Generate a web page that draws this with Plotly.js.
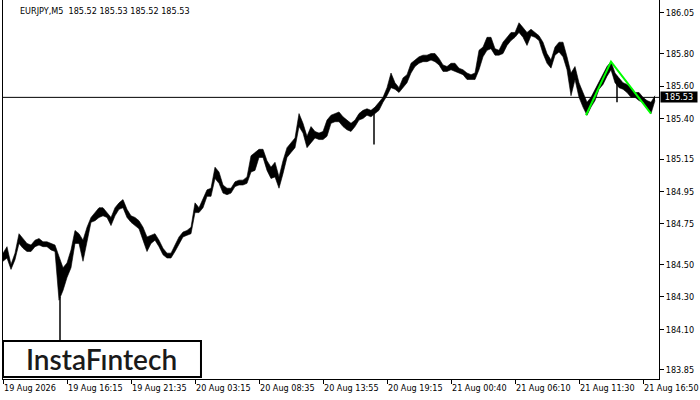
<!DOCTYPE html>
<html>
<head>
<meta charset="utf-8">
<script src="https://cdn.plot.ly/plotly-3.0.1.min.js"></script>
<style>html,body{margin:0;padding:0;background:#fff;}#chart{width:700px;height:400px;}</style>
</head>
<body>
<div id="chart"></div>
<script>
// EURJPY M5 — price envelope sampled every 4 bars (bar index 0 = 19 Aug 2026 10:55)
const barStep = 4;
const high = [
184.57,184.61,184.50,184.57,184.69,184.66,184.63,184.62,184.65,184.66,
184.64,184.64,184.63,184.62,184.55,184.48,184.51,184.59,184.71,184.69,
184.65,184.73,184.79,184.82,184.85,184.85,184.82,184.79,184.85,184.88,
184.90,184.84,184.80,184.79,184.77,184.73,184.67,184.68,184.69,184.65,
184.60,184.57,184.57,184.62,184.67,184.70,184.71,184.73,184.88,184.85,
184.90,184.96,184.97,185.10,185.07,184.99,184.97,184.97,185.01,185.02,
185.02,185.04,185.17,185.19,185.21,185.21,185.14,185.10,185.13,185.04,
185.14,185.22,185.25,185.28,185.43,185.37,185.29,185.35,185.32,185.31,
185.32,185.39,185.42,185.43,185.44,185.41,185.39,185.37,185.39,185.43,
185.45,185.46,185.45,185.47,185.50,185.53,185.59,185.68,185.62,185.59,
185.65,185.67,185.74,185.76,185.78,185.79,185.79,185.80,185.80,185.77,
185.73,185.72,185.74,185.74,185.71,185.70,185.68,185.67,185.68,185.82,
185.84,185.90,185.90,185.83,185.82,185.87,185.90,185.93,185.93,185.99,
185.96,185.93,185.95,185.93,185.91,185.87,185.80,185.76,185.84,185.87,
185.87,185.78,185.68,185.72,185.62,185.56,185.50,185.53,185.58,185.62,
185.67,185.72,185.75,185.68,185.65,185.62,185.61,185.59,185.56,185.56,
185.53,185.51,185.50,185.54
];
const low = [
184.52,184.54,184.47,184.53,184.63,184.60,184.58,184.58,184.61,184.62,
184.61,184.61,184.59,184.58,184.28,184.34,184.42,184.48,184.63,184.63,
184.52,184.65,184.76,184.77,184.79,184.80,184.79,184.74,184.80,184.84,
184.85,184.79,184.76,184.74,184.72,184.65,184.58,184.63,184.65,184.61,
184.56,184.54,184.54,184.58,184.63,184.67,184.68,184.69,184.82,184.82,
184.85,184.92,184.92,185.03,185.00,184.94,184.93,184.94,184.98,184.99,
184.99,185.00,185.07,185.08,185.16,185.16,185.08,185.03,185.04,184.97,
185.06,185.16,185.19,185.22,185.35,185.31,185.22,185.25,185.28,185.27,
185.27,185.29,185.37,185.38,185.38,185.35,185.33,185.32,185.35,185.39,
185.40,185.42,185.41,185.43,185.45,185.50,185.54,185.59,185.58,185.56,
185.59,185.62,185.68,185.72,185.74,185.75,185.75,185.76,185.75,185.73,
185.69,185.69,185.70,185.69,185.68,185.67,185.64,185.64,185.64,185.70,
185.78,185.82,185.83,185.79,185.79,185.80,185.85,185.88,185.90,185.93,
185.90,185.85,185.91,185.90,185.88,185.80,185.74,185.71,185.79,185.81,
185.78,185.70,185.54,185.64,185.53,185.47,185.42,185.47,185.51,185.58,
185.61,185.66,185.70,185.62,185.59,185.58,185.56,185.53,185.53,185.51,
185.50,185.46,185.43,185.51
];
// single-bar wicks
const spikeBars = [57, 371, 614];
const spikeHigh = [184.30, 185.43, 185.66];
const spikeLow  = [184.02, 185.24, 185.50];
// double-top pattern
const patternBars = [583, 608, 648];
const patternPrices = [185.42, 185.75, 185.43];
const lastPrice = 185.53;
const headerText = "EURJPY,M5\u00a0\u00a0185.52 185.53 185.52 185.53";
const priceTicks = [186.05,185.80,185.60,185.40,185.15,184.95,184.75,184.50,184.30,184.10,183.85];
const timeTickBars = [0,64,128,192,256,320,384,448,512,576,640];
const timeTickLabels = ["19 Aug 2026","19 Aug 16:15","19 Aug 21:35","20 Aug 03:15","20 Aug 08:35","20 Aug 13:55","20 Aug 19:15","21 Aug 00:40","21 Aug 06:10","21 Aug 11:30","21 Aug 16:50"];

const xs = high.map((_, k) => k * barStep);
const axisFont = {family: "DejaVu Sans Condensed, Liberation Sans, sans-serif", size: 9, color: "#000"};

const sx = [], sy = [];
spikeBars.forEach((b, i) => { sx.push(b, b, null); sy.push(spikeHigh[i], spikeLow[i], null); });

const traces = [
  {x: xs, y: low, mode: "lines", line: {color: "#000", width: 0.6}, hoverinfo: "skip"},
  {x: xs, y: high, mode: "lines", fill: "tonexty", fillcolor: "#000", line: {color: "#000", width: 0.6}, hoverinfo: "skip"},
  {x: sx, y: sy, mode: "lines", line: {color: "#000", width: 1.5}, hoverinfo: "skip"},
  {x: patternBars, y: patternPrices, mode: "lines", line: {color: "#00ff00", width: 2}, hoverinfo: "skip"}
];

const layout = {
  width: 700, height: 400,
  margin: {l: 3, r: 41, t: 0, b: 21, pad: 0},
  paper_bgcolor: "#fff", plot_bgcolor: "#fff",
  showlegend: false,
  font: axisFont,
  xaxis: {
    range: [0, 656], showgrid: false, zeroline: false,
    showline: true, linecolor: "#000", linewidth: 1,
    ticks: "outside", ticklen: 4, tickcolor: "#000", tickwidth: 1,
    tickvals: timeTickBars, ticktext: timeTickLabels,
    ticklabelposition: "outside right",
    tickfont: axisFont, fixedrange: true
  },
  yaxis: {
    range: [183.7945, 186.130], side: "right", showgrid: false, zeroline: false,
    showline: true, mirror: true, linecolor: "#000", linewidth: 1,
    ticks: "outside", ticklen: 4, tickcolor: "#000", tickwidth: 1,
    tickvals: priceTicks, ticktext: priceTicks.map(v => v.toFixed(2)),
    tickfont: axisFont, fixedrange: true
  },
  shapes: [
    {type: "line", xref: "paper", x0: 0, x1: 1, yref: "y", y0: lastPrice, y1: lastPrice, line: {color: "#000", width: 1}, layer: "below"},
    {type: "rect", xref: "paper", yref: "paper", x0: 0, x1: 0.3018, y0: 0.0053, y1: 0.1003, line: {color: "#000", width: 2}, fillcolor: "#fff", layer: "above"}
  ],
  annotations: [
    {xref: "paper", yref: "paper", x: 0, y: 1, xanchor: "left", yanchor: "middle", xshift: 15, yshift: -11, text: headerText, showarrow: false, font: axisFont},
    {xref: "paper", yref: "y", x: 1, y: lastPrice, xanchor: "left", yanchor: "middle", xshift: 1, text: lastPrice.toFixed(2), showarrow: false, bgcolor: "#000", width: 36, height: 10, borderpad: 0, font: {family: axisFont.family, size: 9, color: "#fff"}},
    {xref: "paper", yref: "paper", x: 0.1509, y: 0.0528, xanchor: "center", yanchor: "middle", text: "InstaF\u0131ntech", showarrow: false, font: {family: "Lato, sans-serif", size: 28, color: "#1a1a1a", weight: 600}}
  ]
};

Plotly.newPlot("chart", traces, layout, {staticPlot: true, displayModeBar: false});
</script>
</body>
</html>
